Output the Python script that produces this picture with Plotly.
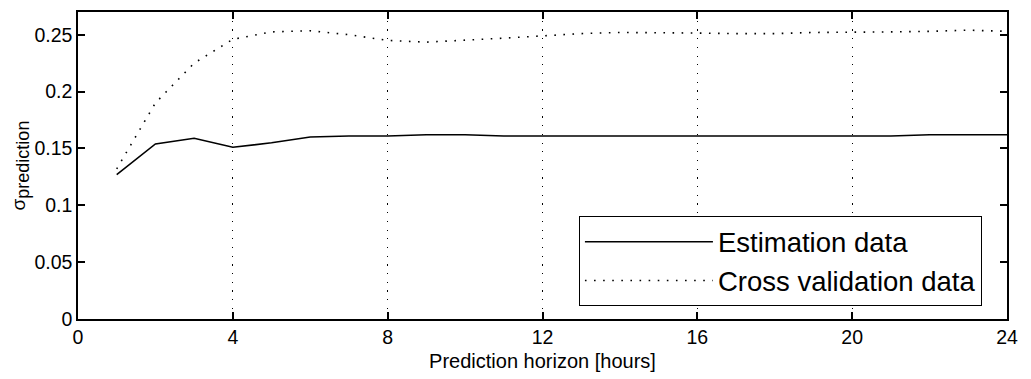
import plotly.graph_objects as go

hours = list(range(1, 25))
estimation = [0.127, 0.154, 0.159, 0.151, 0.155, 0.160, 0.161, 0.161, 0.162, 0.162,
              0.161, 0.161, 0.161, 0.161, 0.161, 0.161, 0.161, 0.161, 0.161, 0.161,
              0.161, 0.162, 0.162, 0.162]
cross_validation = [0.132, 0.190, 0.225, 0.246, 0.2525, 0.2535, 0.250, 0.245, 0.2435, 0.245,
                    0.247, 0.249, 0.251, 0.252, 0.252, 0.2515, 0.251, 0.251, 0.252, 0.252,
                    0.2525, 0.253, 0.254, 0.253]
x_ticks = [0, 4, 8, 12, 16, 20, 24]
y_ticks = [0, 0.05, 0.1, 0.15, 0.2, 0.25]
y_tick_labels = ["0", "0.05", "0.1", "0.15", "0.2", "0.25"]

FONT = "Liberation Sans, Arial, Helvetica, sans-serif"

fig = go.Figure()
fig.add_trace(go.Scatter(x=hours, y=estimation, mode="lines", name="Estimation data",
                         line=dict(color="black", width=1.6)))
fig.add_trace(go.Scatter(x=hours, y=cross_validation, mode="lines", name="Cross validation data",
                         line=dict(color="black", width=1.6, dash="1.6px,7.5px")))

axis_common = dict(showline=True, linecolor="black", linewidth=1.5, mirror="allticks",
                   ticks="inside", tickcolor="black", ticklen=7, tickwidth=1.5,
                   zeroline=False, tickfont=dict(family=FONT, size=19.5, color="black"))

fig.update_xaxes(range=[0, 24], tickvals=x_ticks, showgrid=True, gridcolor="black",
                 griddash="1.2px,7.5px", gridwidth=1.3,
                 title=dict(text="Prediction horizon [hours]", standoff=7,
                            font=dict(family=FONT, size=20, color="black")),
                 **axis_common)
fig.update_yaxes(range=[0, 0.27], tickvals=y_ticks, ticktext=y_tick_labels, showgrid=False,
                 title=dict(text="σ<sub><span style='font-size:18px'>prediction</span></sub>",
                            standoff=4, font=dict(family=FONT, size=19, color="black")),
                 **axis_common)

fig.update_layout(
    width=1031, height=379,
    margin=dict(l=78, r=24, t=10, b=59),
    plot_bgcolor="white", paper_bgcolor="white",
    legend=dict(x=0.539, y=0.335, xanchor="left", yanchor="top",
                bgcolor="white", bordercolor="black", borderwidth=1.2,
                font=dict(family=FONT, size=27.5, color="black"),
                itemwidth=128, tracegroupgap=0),
)

fig.write_html("out.html")
